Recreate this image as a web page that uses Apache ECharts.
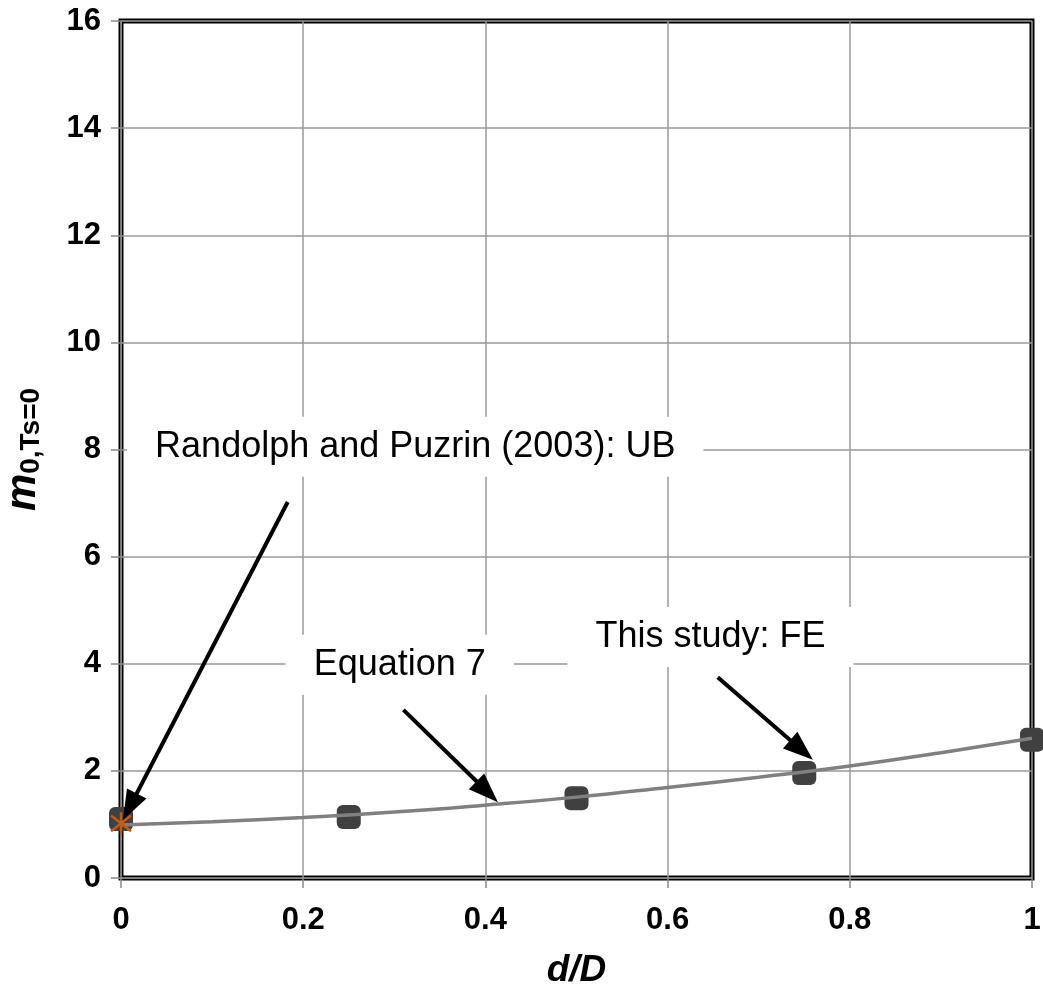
<!DOCTYPE html>
<html><head><meta charset="utf-8">
<script src="https://cdn.jsdelivr.net/npm/echarts@6/dist/echarts.min.js"></script>
<style>html,body{margin:0;padding:0;background:#fff}#c{width:1043px;height:994px}</style>
</head><body><div id="c"></div>
<script>
// Data
var feX = [0, 0.25, 0.5, 0.75, 1];
var feY = [1.10, 1.14, 1.49, 1.96, 2.58];
var eqX = [0, 0.1, 0.2, 0.3, 0.4, 0.5, 0.6, 0.7, 0.8, 0.9, 1.0];
var eqY = [0.99, 1.05, 1.13, 1.23, 1.36, 1.51, 1.69, 1.88, 2.09, 2.34, 2.61];
var ubX = [0];
var ubY = [1.02];
var annotations = [
  {text: 'Randolph and Puzrin (2003): UB', at: [0.323, 8.05]},
  {text: 'Equation 7', at: [0.306, 3.98]},
  {text: 'This study: FE', at: [0.647, 4.50]}
];
var arrows = [
  [[0.183, 7.02], [0.0097, 1.33]],
  [[0.31, 3.14], [0.402, 1.61]],
  [[0.655, 3.75], [0.747, 2.39]]
];

function zip(xs, ys){ return xs.map(function(x,i){return [x, ys[i]];}); }

var chart = echarts.init(document.getElementById('c'), null, {renderer:'canvas'});
var font = "'Liberation Sans', Arial, sans-serif";
chart.setOption({
  animation: false,
  backgroundColor: '#fff',
  grid: {left: 121, right: 11, top: 21, bottom: 116, show: true, borderColor: '#000', borderWidth: 5,
         backgroundColor: 'transparent', outerBoundsMode: 'none', containLabel: false},
  xAxis: {
    type: 'value', min: 0, max: 1, interval: 0.2,
    name: '{i|d/D}', nameLocation: 'middle', nameGap: 74,
    nameTextStyle: {rich: {i: {fontFamily: font, fontSize: 37, fontWeight: 'bold', fontStyle: 'italic', color: '#000'}}},
    axisLine: {show: true, lineStyle: {color: '#888', width: 1}},
    axisTick: {show: true, length: 10, lineStyle: {color: '#888', width: 1.5}},
    axisLabel: {fontFamily: font, fontSize: 31, fontWeight: 'bold', color: '#000', margin: 27},
    splitLine: {show: true, lineStyle: {color: '#999', width: 1.5}}
  },
  yAxis: {
    type: 'value', min: 0, max: 16, interval: 2,
    name: '{m|m}{s|0,Ts=0}', nameLocation: 'middle', nameGap: 76, nameRotate: 90,
    nameTextStyle: {rich: {
      m: {fontFamily: font, fontSize: 42, fontWeight: 'bold', fontStyle: 'italic', color: '#000'},
      s: {fontFamily: font, fontSize: 28, fontWeight: 'bold', color: '#000', padding: [16, 0, 0, 0]}
    }},
    axisLine: {show: true, lineStyle: {color: '#888', width: 1}},
    axisTick: {show: true, length: 10, lineStyle: {color: '#888', width: 1.5}},
    axisLabel: {fontFamily: font, fontSize: 31, fontWeight: 'bold', color: '#000', margin: 20},
    splitLine: {show: true, lineStyle: {color: '#999', width: 1.5}}
  },
  series: [
    {
      name: 'This study: FE', type: 'scatter', data: zip(feX, feY), clip: false,
      symbol: 'roundRect', symbolSize: 24, z: 2,
      itemStyle: {color: '#404040', opacity: 1}
    },
    {
      name: 'Equation 7', type: 'line', data: zip(eqX, eqY), smooth: true, showSymbol: false, z: 3,
      lineStyle: {color: '#808080', width: 3.5}
    },
    {
      type: 'scatter', data: [], z: 5, silent: true,
      markPoint: {
        symbol: 'rect', symbolSize: 1, silent: true, animation: false,
        itemStyle: {color: 'rgba(0,0,0,0)'},
        label: {show: true, position: 'inside', fontFamily: font, fontSize: 36, color: '#000',
                backgroundColor: '#fff', padding: [14, 28, 10, 28]},
        data: annotations.map(function(a){ return {coord: a.at, value: a.text, label: {formatter: a.text}}; })
      },
      markLine: {
        silent: true, animation: false, symbol: ['none', 'path://M5,0L10,14L0,14Z'], symbolSize: [22, 30],
        lineStyle: {color: '#000', width: 4, type: 'solid'},
        itemStyle: {color: '#000'},
        label: {show: false},
        data: arrows.map(function(a){ return [{coord: a[0]}, {coord: a[1]}]; })
      }
    },
    {
      name: 'Randolph and Puzrin (2003): UB', type: 'scatter', data: zip(ubX, ubY), clip: false, z: 6,
      symbol: 'path://M0,0L10,10M10,0L0,10M5,-2L5,12', symbolSize: [20, 22],
      itemStyle: {color: 'rgba(0,0,0,0)', borderColor: '#c55a11', borderWidth: 2.5, opacity: 1}
    }
  ]
});
</script></body></html>
